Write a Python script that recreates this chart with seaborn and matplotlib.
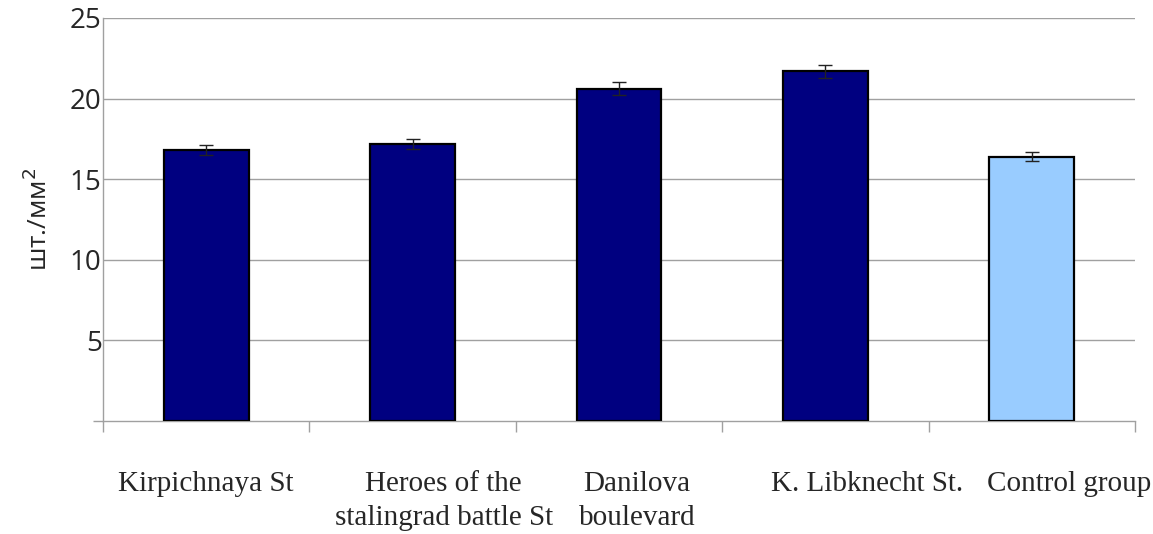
import matplotlib
matplotlib.use("Agg")
import matplotlib.pyplot as plt
import matplotlib.transforms as mtransforms
import seaborn as sns
import numpy as np
import pandas as pd

categories = ["Kirpichnaya St", "Heroes of the\nstalingrad battle St", "Danilova\nboulevard",
              "K. Libknecht St.", "Control group"]
values = [16.8, 17.2, 20.6, 21.7, 16.4]
errors = [0.3, 0.3, 0.4, 0.4, 0.3]
groups = ["site", "site", "site", "site", "control"]
palette = {"site": "#000080", "control": "#99CCFF"}
yticks = [5, 10, 15, 20, 25]

sns.set_style("white")
df = pd.DataFrame({"cat": categories, "val": values, "grp": groups})

fig = plt.figure(figsize=(11.53, 5.34), dpi=100)
ax = fig.add_axes([103/1153, 1 - 421/534, (1135-103)/1153, (421-18)/534])

sns.barplot(data=df, x="cat", y="val", hue="grp", palette=palette, dodge=False,
            saturation=1, width=0.41, edgecolor="black", linewidth=1.6,
            legend=False, ax=ax, zorder=3)

xs = np.arange(len(categories))
ax.errorbar(xs, values, yerr=errors, fmt="none", ecolor="#222222", elinewidth=1.0,
            capsize=5, capthick=1.0, zorder=4)

ax.set_ylim(0, 25)
ax.set_xlim(-0.5, len(categories) - 0.5)
ax.set_yticks(yticks)
ax.set_yticklabels([str(t) for t in yticks], fontsize=20, family="Open Sans")
ax.yaxis.grid(True, color="#a0a0a0", linewidth=1.0, zorder=0)
ax.set_axisbelow(True)
ax.tick_params(axis="y", which="major", length=0, pad=1, left=True)
ax.set_yticks([0], minor=True)
ax.tick_params(axis="y", which="minor", length=7, color="#a0a0a0", width=1.0, left=True)

ax.set_xticks(xs)
ax.set_xticklabels(categories, fontsize=21, family="Liberation Serif", linespacing=1.42)
ax.tick_params(axis="x", which="major", length=0, pad=36, bottom=True)
ax.set_xticks(np.arange(-0.5, len(categories)), minor=True)
ax.tick_params(axis="x", which="minor", length=8, color="#a0a0a0", width=1.0, bottom=True)

# horizontal nudges (pixels) of the category labels, as placed in the original
label_shift_px = [0, 31, 18, 42, 37]
for lab, dx in zip(ax.get_xticklabels(), label_shift_px):
    lab.set_transform(lab.get_transform() +
                      mtransforms.ScaledTranslation(dx / 100, 0, fig.dpi_scale_trans))

for s in ["top", "right"]:
    ax.spines[s].set_visible(False)
for s in ["left", "bottom"]:
    ax.spines[s].set_color("#a0a0a0")
    ax.spines[s].set_linewidth(1.0)

ax.set_xlabel("")
ax.set_ylabel("шт./мм$^2$", fontsize=19, family="Open Sans", labelpad=12)

fig.savefig("out.png", dpi=100)
